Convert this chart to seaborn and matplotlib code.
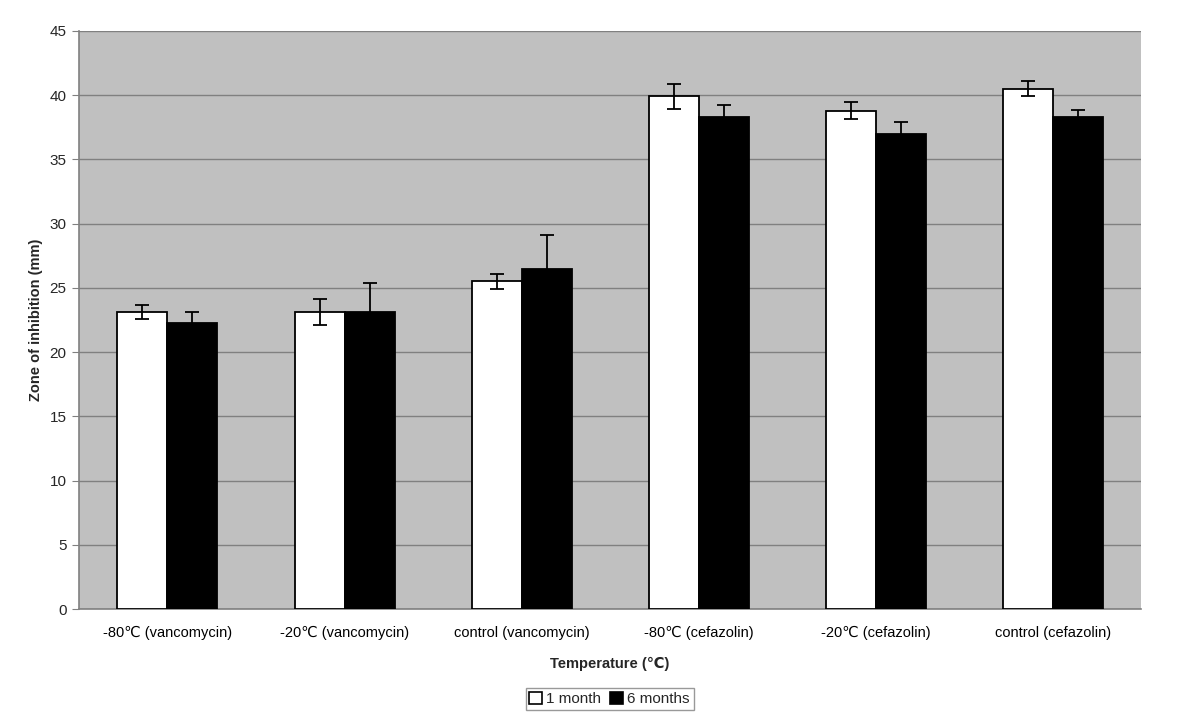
import pandas as pd
import numpy as np
import matplotlib.pyplot as plt
import seaborn as sns
from matplotlib.patches import Patch

# Data
conditions = ['-80\u2103 (vancomycin)', '-20\u2103 (vancomycin)', 'control (vancomycin)',
              '-80\u2103 (cefazolin)', '-20\u2103 (cefazolin)', 'control (cefazolin)']
periods = ['1 month', '6 months']
one_month = [23.1, 23.1, 25.5, 39.9, 38.8, 40.5]
six_months = [22.3, 23.1, 26.5, 38.3, 37.0, 38.3]
err_one_month = [0.55, 1.0, 0.6, 1.0, 0.65, 0.6]
err_six_months = [0.8, 2.3, 2.6, 0.95, 0.9, 0.55]

df = pd.DataFrame({
    'condition': conditions * 2,
    'period': [periods[0]] * 6 + [periods[1]] * 6,
    'zone': one_month + six_months,
})
errs = {periods[0]: err_one_month, periods[1]: err_six_months}

sns.set_style('white')
plt.rcParams['font.family'] = ['Liberation Sans', 'DejaVu Sans']

fig = plt.figure(figsize=(12, 7.27), dpi=100)
ax = fig.add_axes([0.0658, 0.1623, 0.8852, 0.7951])
ax.set_facecolor('#C0C0C0')

sns.barplot(data=df, x='condition', y='zone', hue='period', order=conditions,
            hue_order=periods, palette=['white', 'black'], edgecolor='black',
            linewidth=1.3, width=0.565, gap=0, errorbar=None, legend=False, ax=ax,
            zorder=3)

# error bars on each bar
for cont, p in zip(ax.containers, periods):
    xs = [b.get_x() + b.get_width() / 2 for b in cont]
    ys = [b.get_height() for b in cont]
    ax.errorbar(xs, ys, yerr=errs[p], fmt='none', ecolor='black', elinewidth=1.3,
                capsize=5, capthick=1.3, zorder=4)

ax.set_ylim(0, 45)
ax.set_xlim(-0.5, len(conditions) - 0.5)
ax.set_yticks(np.arange(0, 46, 5))
ax.yaxis.grid(True, color='#808080', linewidth=1.0)
ax.set_axisbelow(True)

# category separators as ticks
ax.set_xticks(np.arange(-0.5, len(conditions), 1), minor=True)
ax.tick_params(axis='x', which='major', length=0, labelsize=10.5, pad=12, colors='black')
ax.tick_params(axis='x', which='minor', length=5, color='#808080', direction='out')
ax.tick_params(axis='y', length=5, color='#808080', direction='out', labelsize=11, pad=4)
ax.tick_params(bottom=True, left=True)

for side in ['top', 'right']:
    ax.spines[side].set_visible(False)
for side in ['left', 'bottom']:
    ax.spines[side].set_color('#808080')
    ax.spines[side].set_linewidth(1.2)

ax.set_xlabel('Temperature (\u2103)', fontsize=10.5, fontweight='bold', labelpad=12)
ax.set_ylabel('Zone of inhibition (mm)', fontsize=10.5, fontweight='bold', labelpad=5)

handles = [Patch(facecolor='white', edgecolor='black', linewidth=1.2),
           Patch(facecolor='black', edgecolor='black', linewidth=1.2)]
leg = fig.legend(handles, periods, loc='center', bbox_to_anchor=(0.508, 0.0385), ncol=2,
                 frameon=True, fancybox=False, fontsize=11, handlelength=0.8,
                 handleheight=0.8, handletextpad=0.3, columnspacing=0.6,
                 borderpad=0.25, edgecolor='#808080')
leg.get_frame().set_linewidth(1.0)

fig.savefig('out.png', dpi=100)
